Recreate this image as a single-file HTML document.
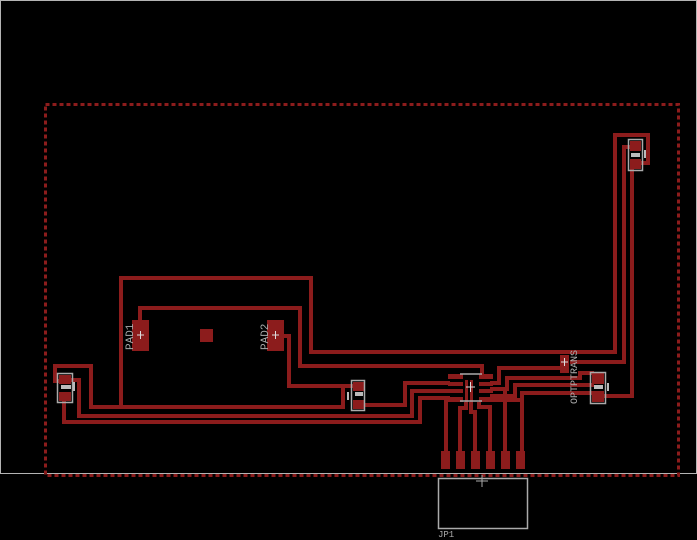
<!DOCTYPE html>
<html><head><style>
html,body{margin:0;padding:0;background:#000;}
svg{display:block;}
text{font-family:"Liberation Mono",monospace;fill:#aaa;}
</style></head><body>
<svg width="697" height="540" viewBox="0 0 697 540" xmlns="http://www.w3.org/2000/svg">
<rect x="0" y="0" width="697" height="540" fill="#000"/>
<!-- board outline -->
<polyline points="0.5,0 0.5,473.5 696.5,473.5 696.5,0.5 0.5,0.5" fill="none" stroke="#b4b4b4" stroke-width="1"/>
<!-- dashed keepout -->
<rect x="45.5" y="104.5" width="633" height="371" fill="none" stroke="#8c1c1c" stroke-width="3" stroke-dasharray="4,3"/>
<g fill="none" stroke="#8c1c1c" stroke-width="4" stroke-linejoin="miter">
<!-- big upper loop -->
<polyline points="121,407 121,278 311,278 311,352 615,352 615,135 648,135 648,163 640,163"/>
<!-- second loop -->
<polyline points="140,322 140,308 300,308 300,366 482,366 482,376"/>
<polyline points="570,362 624,362 624,147 632,147"/>
<polyline points="632,165 632,396 604,396"/>
<!-- left part -->
<polyline points="62,381 55,381 55,366 91,366 91,407 343,407 343,386 289,386 289,336 282,336"/>
<polyline points="343,386 354,386"/>
<polyline points="66,380 79,380 79,416 412,416 412,391 450,391"/>
<polyline points="64,400 64,422 420,422 420,398 450,398"/>
<polyline points="358,405 405,405 405,383 450,383"/>
<!-- IC right side -->
<polyline points="490,383 499,383 499,368 562,368"/>
<polyline points="490,389 507,389 507,378 580,378 580,373 594,373"/>
<polyline points="490,396 515,396 515,385 594,385"/>
<polyline points="490,400 522,400 522,393 594,393"/>
<polyline points="522,393 522,452"/>
<!-- header connections -->
<polyline points="446,400 446,452"/>
<polyline points="466,402 466,408 460,408 460,452"/>
<polyline points="471,402 471,412 475,412 475,452"/>
<polyline points="479,402 479,407 490,407 490,452"/>
<polyline points="505,390 505,452"/>
</g>
<g fill="#8c1c1c">
<!-- PADs -->
<rect x="132" y="320" width="17" height="31"/>
<rect x="267" y="320" width="17" height="31"/>
<rect x="200" y="329" width="13" height="13"/>
<!-- left 2-pin -->
<rect x="59" y="375" width="12" height="9"/>
<rect x="59" y="392" width="12" height="9"/>
<!-- mid 2-pin -->
<rect x="353" y="382" width="11" height="9"/>
<rect x="353" y="400" width="11" height="9"/>
<!-- top right 2-pin -->
<rect x="630" y="141" width="11" height="10"/>
<rect x="630" y="159" width="11" height="10"/>
<!-- right 2-pin -->
<rect x="592" y="373" width="12" height="11"/>
<rect x="592" y="391" width="12" height="11"/>
<!-- small pad -->
<rect x="560" y="355" width="9" height="18"/>
<!-- IC pads -->
<rect x="448" y="374" width="15" height="5"/><rect x="479" y="374" width="14" height="5"/>
<rect x="448" y="382" width="15" height="4"/><rect x="479" y="382" width="14" height="4"/>
<rect x="448" y="389" width="15" height="4"/><rect x="479" y="389" width="14" height="4"/>
<rect x="448" y="397" width="15" height="5"/><rect x="479" y="397" width="14" height="5"/>
<!-- header pads -->
<rect x="441" y="451" width="9" height="18"/>
<rect x="456" y="451" width="9" height="18"/>
<rect x="471" y="451" width="9" height="18"/>
<rect x="486" y="451" width="9" height="18"/>
<rect x="501" y="451" width="9" height="18"/>
<rect x="516" y="451" width="9" height="18"/>
<rect x="465" y="380" width="3" height="22"/><rect x="470" y="380" width="3" height="22"/>
</g>
<g fill="none" stroke="#aaa" stroke-width="1.5">
<rect x="57.5" y="373.5" width="15" height="29"/>
<rect x="351.5" y="380.5" width="13" height="30"/>
<rect x="628.5" y="139.5" width="14" height="31"/>
<rect x="590.5" y="372.5" width="15" height="31"/>
<line x1="460" y1="374" x2="482" y2="374"/><line x1="460" y1="401" x2="482" y2="401"/>
<rect x="438.5" y="478.5" width="89" height="50"/>
<line x1="476" y1="481" x2="488" y2="481" stroke-width="1"/><line x1="482" y1="475" x2="482" y2="487" stroke-width="1"/>
</g>
<g stroke="#ddd" stroke-width="1">
<line x1="137" y1="335" x2="144" y2="335"/><line x1="140.5" y1="331" x2="140.5" y2="339"/>
<line x1="272" y1="335" x2="279" y2="335"/><line x1="275.5" y1="331" x2="275.5" y2="339"/>
<line x1="561" y1="362" x2="568" y2="362"/><line x1="564.5" y1="358" x2="564.5" y2="366"/>
<line x1="466" y1="387" x2="475" y2="387"/><line x1="470.5" y1="382" x2="470.5" y2="392"/>
</g>
<g fill="#bbb">
<rect x="61" y="385" width="10" height="4"/><rect x="73" y="382" width="2" height="9"/>
<rect x="355" y="392" width="8" height="4"/><rect x="347" y="392" width="2" height="8"/>
<rect x="631" y="153" width="9" height="4"/><rect x="644" y="150" width="2" height="8"/>
<rect x="594" y="385" width="9" height="4"/><rect x="607" y="383" width="2" height="8"/>
</g>
<text transform="translate(133,350) rotate(-90)" font-size="11">PAD1</text>
<text transform="translate(268,350) rotate(-90)" font-size="11">PAD2</text>
<text transform="translate(577,404) rotate(-90)" font-size="10">OPTPTRANS</text>
<text x="438" y="537" font-size="9">JP1</text>
</svg>
</body></html>
